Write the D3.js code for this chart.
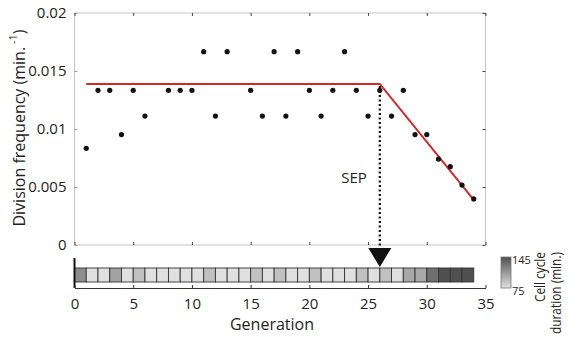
<!DOCTYPE html>
<html>
<head>
<meta charset="utf-8">
<script src="https://cdn.jsdelivr.net/npm/d3@7"></script>
<style>
  body { margin: 0; background: #fff; }
  text { font-family: "Open Sans", sans-serif; fill: #231f20; }
</style>
</head>
<body>
<div id="chart"></div>
<script>
// generations 1..34
const generations = [1,2,3,4,5,6,7,8,9,10,11,12,13,14,15,16,17,18,19,20,21,22,23,24,25,26,27,28,29,30,31,32,33,34];
// division frequency per generation (min^-1), null = no dot drawn
const divFreq = [0.00833,0.01333,0.01333,0.00952,0.01333,0.01111,null,0.01333,0.01333,0.01333,0.01667,0.01111,0.01667,null,0.01333,0.01111,0.01667,0.01111,0.01667,0.01333,0.01111,0.01333,0.01667,0.01333,0.01111,0.01333,0.01111,0.01333,0.00952,0.00952,0.00741,0.00675,0.00517,0.00397];
// cell cycle duration (min) shown in the strip
const cycleDur = [115,75,75,105,75,90,75,75,75,75,60,90,60,75,75,90,60,90,60,75,90,75,60,75,90,75,90,75,102,102,130,145,150,150];
// piecewise fit
const fitGen = [1, 26, 34];
const fitFreq = [0.01388, 0.01388, 0.0039];
const sepGen = 26;
const yTicks = [0, 0.005, 0.01, 0.015, 0.02];
const xTicks = [0, 5, 10, 15, 20, 25, 30, 35];
const durRange = [75, 145];

const W = 577, H = 337;
const svg = d3.select("#chart").append("svg").attr("width", W).attr("height", H);

const x = d3.scaleLinear().domain([0, 35]).range([74.5, 485.5]);
const y = d3.scaleLinear().domain([0, 0.02]).range([245, 13]);
const grey = d3.scaleLinear().domain(durRange).range(["#e0e0e0", "#505050"]).clamp(true);

// frame
svg.append("rect").attr("x", x(0)).attr("y", y(0.02)).attr("width", x(35) - x(0)).attr("height", y(0) - y(0.02))
  .attr("fill", "none").attr("stroke", "#c4c4c4").attr("stroke-width", 1);

const yAxis = svg.append("g").attr("transform", `translate(${x(0)},0)`)
  .call(d3.axisLeft(y).tickValues(yTicks).tickSize(-3).tickPadding(8).tickFormat(d => d === 0 ? "0" : String(d)));
yAxis.select(".domain").remove();
yAxis.selectAll("line").attr("stroke", "#999");
yAxis.selectAll("text").style("font-size", "15px").attr("font-family", null);

const ax2 = [
  d3.axisTop(x).tickValues(xTicks).tickSize(-3).tickFormat(""),
  d3.axisBottom(x).tickValues(xTicks).tickSize(-3).tickFormat("")
];
svg.append("g").attr("transform", `translate(0,${y(0.02)})`).call(ax2[0]).call(g => g.select(".domain").remove()).selectAll("line").attr("stroke", "#444");
svg.append("g").attr("transform", `translate(0,${y(0)})`).call(ax2[1]).call(g => g.select(".domain").remove()).selectAll("line").attr("stroke", "#444");
svg.append("g").attr("transform", `translate(${x(35)},0)`)
  .call(d3.axisRight(y).tickValues(yTicks).tickSize(-3).tickFormat(""))
  .call(g => g.select(".domain").remove()).selectAll("line").attr("stroke", "#444");

// y label
const yl = svg.append("text").attr("transform", `translate(25,${128}) rotate(-90)`)
  .attr("text-anchor", "middle").style("font-size", "16px");
yl.append("tspan").text("Division frequency (min.");
yl.append("tspan").text(" -1").style("font-size", "11px").attr("dy", -8);
yl.append("tspan").text(")").attr("dy", 8);

// fit line
const line = d3.line().x(d => x(d[0])).y(d => y(d[1]));
svg.append("path").datum(fitGen.map((g, i) => [g, fitFreq[i]])).attr("d", line)
  .attr("fill", "none").attr("stroke", "#cf2a27").attr("stroke-width", 2);

// dots
svg.selectAll("circle.pt").data(generations.map((g, i) => [g, divFreq[i]]).filter(d => d[1] != null))
  .enter().append("circle").attr("class", "pt")
  .attr("cx", d => x(d[0])).attr("cy", d => y(d[1])).attr("r", 2.6).attr("fill", "#111");

// SEP arrow
svg.append("line").attr("x1", x(sepGen)).attr("x2", x(sepGen)).attr("y1", y(fitFreq[1]) + 2).attr("y2", 249)
  .attr("stroke", "#111").attr("stroke-width", 2.2).attr("stroke-dasharray", "2,2.5");
svg.append("path").attr("d", `M${x(sepGen) - 11.5},248 L${x(sepGen) + 11.5},248 L${x(sepGen)},267 Z`).attr("fill", "#111");
svg.append("text").attr("x", x(sepGen) - 13).attr("y", 183).attr("text-anchor", "end").style("font-size", "15px").text("SEP");

// duration strip
svg.selectAll("rect.cell").data(generations.map((g, i) => [g, cycleDur[i]]))
  .enter().append("rect").attr("class", "cell")
  .attr("x", d => x(d[0] - 1)).attr("width", d => x(d[0]) - x(d[0] - 1))
  .attr("y", 268).attr("height", 14)
  .attr("fill", d => grey(d[1])).attr("stroke", "#333").attr("stroke-width", 0.9);

svg.append("line").attr("x1", x(0)).attr("x2", x(0)).attr("y1", 258).attr("y2", 288).attr("stroke", "#111").attr("stroke-width", 2);
const bx = svg.append("g").attr("transform", "translate(0,288)")
  .call(d3.axisBottom(x).tickValues(xTicks).tickSize(-3).tickPadding(10).tickSizeOuter(0));
bx.select(".domain").attr("stroke", "#333");
bx.selectAll("line").attr("stroke", "#333");
bx.selectAll("text").style("font-size", "15px").attr("font-family", null);
svg.append("text").attr("x", 272).attr("y", 330).attr("text-anchor", "middle").style("font-size", "16px").text("Generation");

// colour bar
const grad = svg.append("defs").append("linearGradient").attr("id", "cb").attr("x1", 0).attr("x2", 0).attr("y1", 1).attr("y2", 0);
grad.append("stop").attr("offset", 0).attr("stop-color", grey(durRange[0]));
grad.append("stop").attr("offset", 1).attr("stop-color", grey(durRange[1]));
svg.append("rect").attr("x", 501).attr("y", 257).attr("width", 10).attr("height", 31)
  .attr("fill", "url(#cb)").attr("stroke", "#777").attr("stroke-width", 0.8);
svg.append("text").attr("x", 512).attr("y", 264).style("font-size", "11px").text(durRange[1]);
svg.append("text").attr("x", 512).attr("y", 295).style("font-size", "11px").text(durRange[0]);
svg.append("text").attr("transform", "translate(545,252) rotate(-90)").attr("text-anchor", "end").style("font-size", "14px")
  .attr("textLength", 50).attr("lengthAdjust", "spacingAndGlyphs").text("Cell cycle");
svg.append("text").attr("transform", "translate(561,252) rotate(-90)").attr("text-anchor", "end").style("font-size", "14px")
  .attr("textLength", 82).attr("lengthAdjust", "spacingAndGlyphs").text("duration (min.)");
</script>
</body>
</html>
